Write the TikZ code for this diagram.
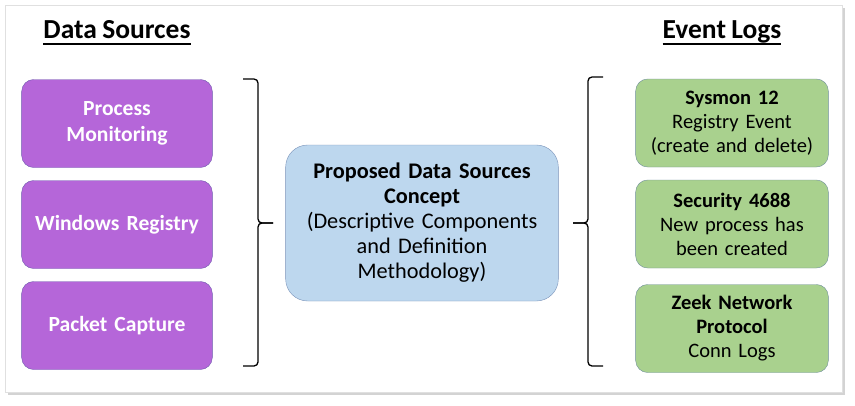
\documentclass[tikz,border=0pt]{standalone}
\usepackage{fontspec}
\setmainfont{Carlito}[WordSpace=0.85]
\usetikzlibrary{shapes.geometric, shadows}
\definecolor{srcpurple}{HTML}{B566D9}
\definecolor{srcline}{HTML}{6E5AAE}
\definecolor{conblue}{HTML}{BDD7EE}
\definecolor{conline}{HTML}{7A93BA}
\definecolor{loggreen}{HTML}{A9D18E}
\definecolor{logline}{HTML}{6F8F9A}
\newcommand{\headrule}[1]{\setbox0=\hbox{#1}\dp0=0pt\vtop{\copy0\kern5pt\hrule height 2pt width \wd0}}
\tikzstyle{source} = [rectangle, rounded corners=12pt, minimum width=188pt, minimum height=88pt, text width=184pt, align=center, draw=srcline, fill=srcpurple, text=white, font=\fontsize{21.6}{26}\selectfont\bfseries]
\tikzstyle{eventlog} = [rectangle, rounded corners=12pt, minimum width=188pt, minimum height=88pt, text width=186pt, align=center, draw=logline, fill=loggreen, font=\fontsize{20.5}{24}\selectfont]
\tikzstyle{concept} = [rectangle, rounded corners=22pt, minimum width=270pt, minimum height=156pt, text width=266pt, align=center, draw=conline, fill=conblue, font=\fontsize{22.3}{25}\selectfont]
\tikzstyle{heading} = [inner sep=0pt, font=\fontsize{27.5}{30}\selectfont\bfseries]
\tikzstyle{bracket} = [line width=1.3pt, rounded corners=4pt]

\begin{document}
\begin{tikzpicture}[x=1pt, y=-1pt, node distance=101pt]

\useasboundingbox (0,0) rectangle (855,405);
\fill[white, drop shadow={opacity=0.35, shadow xshift=3pt, shadow yshift=-3pt}, draw=black!12] (5,5) rectangle (842,392);

\node (DS) [heading, anchor=base] at (117,38) {\headrule{Data Sources}};
\node (EL) [heading, anchor=base] at (722,38) {\headrule{Event Logs}};

\node (ds1) [source] at (117,123.5) {Process\\Monitoring};
\node (ds2) [source, below of=ds1] {Windows Registry};
\node (ds3) [source, below of=ds2] {Packet Capture};

\node (con) [concept] at (422,223) {\textbf{Proposed Data Sources}\\\textbf{Concept}\\(Descriptive Components\\and Definition\\Methodology)};

\node (ev1) [eventlog] at (732,123) {\textbf{Sysmon 12}\\Registry Event\\(create and delete)};
\node (ev2) [eventlog, below of=ev1] {\textbf{Security 4688}\\New process has\\been created};
\node (ev3) [eventlog, below of=ev2, yshift=-3.5pt] {\textbf{Zeek Network}\\\textbf{Protocol}\\Conn Logs};

% braces
\draw [bracket] (243,79) -- (258,79) -- (258,223) -- (273,223);
\draw [bracket] (273,223) -- (258,223) -- (258,366) -- (243,366);
\draw [bracket] (603,77) -- (588,77) -- (588,223) -- (573,223);
\draw [bracket] (573,223) -- (588,223) -- (588,366) -- (603,366);

\end{tikzpicture}
\end{document}
